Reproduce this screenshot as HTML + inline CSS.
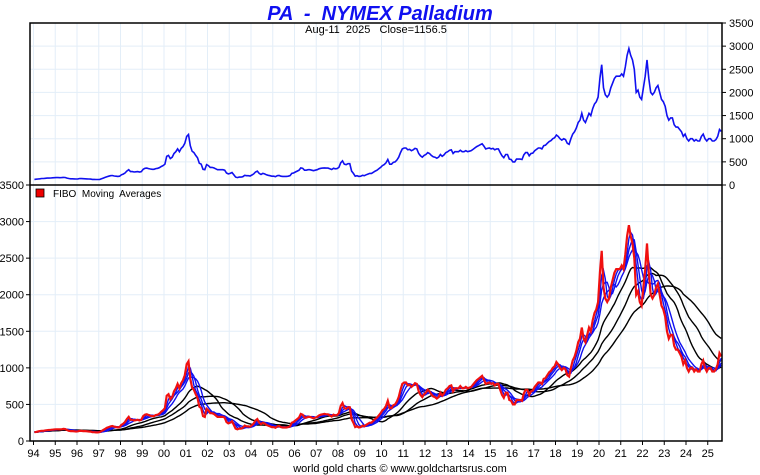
<!DOCTYPE html>
<html><head><meta charset="utf-8">
<style>
body{margin:0;background:#fff;}
svg{display:block;font-family:"Liberation Sans",sans-serif;}
</style></head>
<body>
<svg id="chart" width="760" height="475" viewBox="0 0 760 475">
<text x="380" y="20" text-anchor="middle" font-size="20" font-weight="bold" font-style="italic" fill="#1010f0" xml:space="preserve">PA  -  NYMEX Palladium</text>
<g id="grid"></g>
<text x="376" y="33" text-anchor="middle" font-size="11" fill="#000" xml:space="preserve">Aug-11  2025   Close=1156.5</text>
<g id="series"></g>
<rect x="30" y="23" width="692" height="418" fill="none" stroke="#000" stroke-width="1.5"/>
<line x1="30" y1="185" x2="722" y2="185" stroke="#000" stroke-width="1.5"/>
<rect x="36" y="189" width="8" height="8" fill="#e00" stroke="#000" stroke-width="0.8"/>
<text x="53" y="197" font-size="10" fill="#000" xml:space="preserve">FIBO  Moving  Averages</text>
<g id="axes" font-size="11" fill="#000"></g>
<text x="400" y="472" text-anchor="middle" font-size="11" fill="#000">world gold charts © www.goldchartsrus.com</text>
</svg>
<script>
const years=["94","95","96","97","98","99","00","01","02","03","04","05","06","07","08","09","10","11","12","13","14","15","16","17","18","19","20","21","22","23","24","25"];
const priceTicks=[0,500,1000,1500,2000,2500,3000,3500];
const prices=[
120,125,130,135,140,140,145,148,150,152,155,157,
160,160,158,160,165,163,150,140,135,135,132,130,
132,140,138,136,135,132,130,128,122,120,118,118,
122,135,150,165,180,190,200,205,195,190,185,190,
220,235,260,300,330,290,290,280,285,290,280,290,
340,360,365,355,345,340,340,355,360,375,400,420,
450,620,640,570,600,680,720,780,720,790,830,900,
1050,1090,850,730,700,640,590,470,450,340,330,440,
420,380,380,370,350,330,330,330,330,320,260,240,
250,270,220,170,160,170,170,180,210,200,200,195,
215,240,280,300,250,230,250,240,220,210,200,190,
190,180,200,205,190,185,185,185,190,200,250,260,
280,300,320,370,360,320,320,330,330,320,310,320,
330,350,360,365,370,365,365,350,335,360,350,355,
380,480,520,450,440,460,460,300,250,190,200,185,
190,210,200,220,235,250,250,275,300,320,350,380,
420,440,480,550,450,450,490,500,540,600,700,780,
800,800,760,770,740,760,790,780,680,630,600,640,
660,700,680,640,610,600,580,600,660,620,650,700,
720,750,760,680,720,720,720,750,720,720,740,720,
730,740,770,800,830,850,870,890,840,780,790,800,
780,790,760,780,780,700,630,590,660,660,560,550,
500,500,560,560,560,550,650,700,700,630,680,690,
740,770,800,800,780,850,860,900,940,960,1000,1020,
1080,1050,1000,970,1000,980,900,880,1000,1100,1150,1230,
1350,1400,1550,1400,1350,1450,1550,1500,1650,1750,1800,1900,
2300,2600,2100,1950,1900,1950,2100,2200,2300,2350,2350,2350,
2400,2350,2550,2800,2950,2800,2700,2500,2000,2050,1900,1850,
2100,2350,2700,2300,2000,1950,2000,2100,2150,2000,1850,1800,
1700,1500,1400,1450,1450,1300,1250,1250,1200,1150,1050,1100,
1000,950,1000,1000,950,980,950,950,1050,1100,1000,950,
1000,1000,950,950,980,1050,1200,1156];
const blueMA=[3,5,8];
const blackMA=[18,30,45];
(function(){
const NS="http://www.w3.org/2000/svg";
function xT(t){return 164+21.75*(t-2000);}
function yTop(v){return 185-v*162/3500;}
function yBot(v){return 441-v*256/3500;}
function mk(tag,attrs,parent){const e=document.createElementNS(NS,tag);for(const k in attrs)e.setAttribute(k,attrs[k]);parent.appendChild(e);return e;}
const grid=document.getElementById('grid'),ser=document.getElementById('series'),axes=document.getElementById('axes');
years.forEach((y,i)=>{const x=xT(1994+i);
 const g=mk('line',{x1:x,x2:x,y1:23,y2:441,stroke:'#e3eef8','stroke-width':1},grid);
 
 
 const t=mk('line',{x1:x,x2:x,y1:441,y2:445,stroke:'#000'},axes);
 
 
 const l=mk('text',{x:x,y:457,'text-anchor':'middle'},axes);l.textContent=y;
 
 
});
priceTicks.forEach(v=>{
 const yt=yTop(v),yb=yBot(v);
 const g1=mk('line',{x1:30,x2:722,y1:yt,y2:yt,stroke:'#e3eef8'},grid);
 
 
 const g2=mk('line',{x1:30,x2:722,y1:yb,y2:yb,stroke:'#e3eef8'},grid);
 
 
 const t1=mk('line',{x1:722,x2:726,y1:yt,y2:yt,stroke:'#000'},axes);
 
 
 const l1=mk('text',{x:729,y:yt+4},axes);l1.textContent=v;
 
 
 const t2=mk('line',{x1:26,x2:30,y1:yb,y2:yb,stroke:'#000'},axes);
 
 
 const l2=mk('text',{x:24,y:yb+4,'text-anchor':'end'},axes);l2.textContent=v;
 
 
});
function tOf(i){return 1994+(i+0.5)/12;}
function pathOf(arr,yf){return arr.map((v,i)=>(i?'L':'M')+xT(tOf(i)).toFixed(1)+' '+yf(v).toFixed(1)).join(' ');}
function ma(n){return prices.map((v,i)=>{const s=prices.slice(Math.max(0,i-n+1),i+1);return s.reduce((a,b)=>a+b,0)/s.length;});}
const topLine=mk('path',{d:pathOf(prices,yTop),fill:'none',stroke:'#1010f0','stroke-width':1.6},ser);


blackMA.slice().reverse().forEach(n=>{const p=mk('path',{d:pathOf(ma(n),yBot),fill:'none',stroke:'#000','stroke-width':1.4},ser);
 
 });
blueMA.slice().reverse().forEach(n=>{const p=mk('path',{d:pathOf(ma(n),yBot),fill:'none',stroke:'#1010f0','stroke-width':1.4},ser);
 
 });
const botLine=mk('path',{d:pathOf(prices,yBot),fill:'none',stroke:'#f01010','stroke-width':2.2},ser);


})();
</script>
</body></html>
